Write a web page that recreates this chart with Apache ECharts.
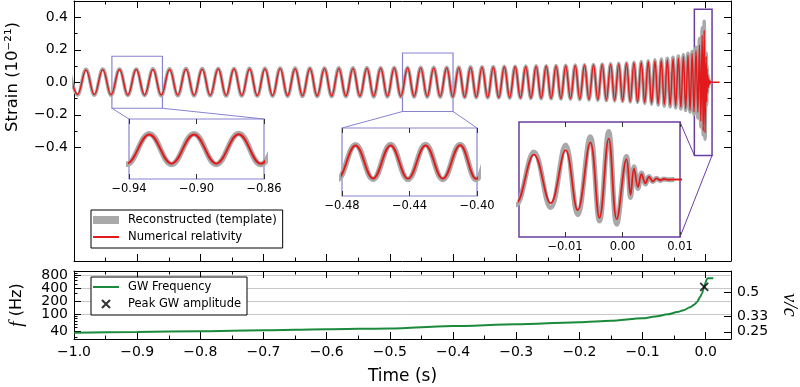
<!DOCTYPE html>
<html>
<head>
<meta charset="utf-8">
<script src="https://cdn.jsdelivr.net/npm/echarts@6.0.0/dist/echarts.min.js"></script>
<style>
html, body { margin:0; padding:0; background:#fff; }
#chart { width:800px; height:387px; }
</style>
</head>
<body>
<div id="chart"></div>
<script>
// ---------------- data ----------------
// extremes (peaks / troughs) of the strain waveform, time in s
const strainTimes = [
-1.0075,-0.9943,-0.9810,-0.9678,-0.9545,-0.9413,-0.9280,-0.9148,-0.9015,-0.8883,
-0.8750,-0.8619,-0.8487,-0.8357,-0.8227,-0.8099,-0.7971,-0.7844,-0.7717,-0.7592,
-0.7467,-0.7344,-0.7221,-0.7099,-0.6977,-0.6857,-0.6737,-0.6619,-0.6500,-0.6383,
-0.6266,-0.6151,-0.6035,-0.5922,-0.5808,-0.5696,-0.5584,-0.5474,-0.5363,-0.5255,
-0.5146,-0.5039,-0.4931,-0.4826,-0.4720,-0.4616,-0.4512,-0.4409,-0.4305,-0.4203,
-0.4100,-0.4005,-0.3909,-0.3816,-0.3723,-0.3632,-0.3541,-0.3452,-0.3363,-0.3276,
-0.3188,-0.3103,-0.3017,-0.2933,-0.2849,-0.2767,-0.2685,-0.2605,-0.2525,-0.2447,
-0.2369,-0.2293,-0.2216,-0.2141,-0.2066,-0.1993,-0.1919,-0.1848,-0.1777,-0.1708,
-0.1639,-0.1573,-0.1506,-0.1442,-0.1377,-0.1316,-0.1254,-0.1195,-0.1136,-0.1079,
-0.1021,-0.0966,-0.0910,-0.0857,-0.0804,-0.0754,-0.0704,-0.0656,-0.0608,-0.0563,
-0.0518,-0.0476,-0.0433,-0.0394,-0.0354,-0.0318,-0.0281,-0.0248,-0.0215,-0.0185,
-0.0154,-0.0125,-0.0099,-0.0078,-0.0056,-0.0040,-0.0024,-0.0010,0.0007,0.0014,
0.0020,0.0027,0.0033,0.0040,0.0046,0.0053,0.0059,0.0066,0.0072,0.0080,
0.0090,0.0220];
// numerical relativity strain (1e-21) at those times
const nrStrain = [
0.075,-0.075,0.076,-0.076,0.077,-0.077,0.078,-0.078,0.078,-0.078,
0.079,-0.079,0.079,-0.079,0.080,-0.080,0.080,-0.080,0.081,-0.081,
0.081,-0.081,0.082,-0.082,0.082,-0.082,0.083,-0.083,0.083,-0.083,
0.084,-0.084,0.084,-0.084,0.085,-0.085,0.085,-0.085,0.086,-0.086,
0.086,-0.086,0.087,-0.087,0.087,-0.087,0.088,-0.088,0.088,-0.088,
0.089,-0.089,0.090,-0.090,0.091,-0.091,0.092,-0.092,0.093,-0.093,
0.094,-0.094,0.095,-0.095,0.096,-0.096,0.097,-0.097,0.098,-0.098,
0.099,-0.099,0.100,-0.101,0.102,-0.103,0.104,-0.105,0.106,-0.107,
0.108,-0.109,0.110,-0.111,0.113,-0.114,0.116,-0.117,0.119,-0.120,
0.122,-0.124,0.126,-0.128,0.130,-0.132,0.134,-0.136,0.138,-0.141,
0.144,-0.147,0.150,-0.154,0.158,-0.162,0.166,-0.171,0.177,-0.183,
0.195,-0.185,0.230,-0.240,0.290,-0.300,0.320,-0.310,0.160,-0.120,
0.085,-0.060,0.042,-0.030,0.020,-0.014,0.009,-0.006,0.004,-0.002,
0,0];
// reconstructed template strain (1e-21) at those times (null = no template)
const templateStrain = [
0.079,-0.079,0.080,-0.080,0.081,-0.081,0.082,-0.082,0.082,-0.082,
0.083,-0.083,0.083,-0.083,0.084,-0.084,0.084,-0.084,0.085,-0.085,
0.085,-0.085,0.086,-0.086,0.086,-0.086,0.087,-0.087,0.087,-0.087,
0.088,-0.088,0.088,-0.088,0.089,-0.089,0.089,-0.089,0.090,-0.090,
0.090,-0.090,0.091,-0.091,0.091,-0.091,0.092,-0.092,0.092,-0.092,
0.093,-0.093,0.094,-0.094,0.095,-0.095,0.096,-0.096,0.097,-0.097,
0.098,-0.098,0.099,-0.099,0.100,-0.100,0.101,-0.101,0.102,-0.102,
0.103,-0.103,0.104,-0.105,0.106,-0.107,0.108,-0.109,0.110,-0.111,
0.112,-0.113,0.114,-0.115,0.117,-0.118,0.120,-0.121,0.123,-0.124,
0.127,-0.130,0.133,-0.136,0.139,-0.141,0.143,-0.146,0.148,-0.151,
0.154,-0.157,0.161,-0.165,0.169,-0.174,0.179,-0.184,0.190,-0.198,
0.215,-0.220,0.270,-0.275,0.335,-0.325,0.375,-0.350,0.180,-0.140,
0.100,-0.070,0.050,-0.035,0.024,-0.016,0.010,-0.007,0.004,-0.002,
0,null];
// GW frequency track
const freqTimes = [-1.0,-0.9,-0.8,-0.7,-0.6,-0.5,-0.4,-0.3,-0.2,-0.15,-0.1,-0.08,-0.06,-0.045,-0.035,-0.025,-0.019,-0.014,-0.0087,-0.006,-0.004,-0.0024,-0.001,0.0005,0.0015,0.0025,0.004,0.007,0.012];
const freqHz = [37.8,39.3,40.9,42.9,45.2,47.3,53.8,59,65.5,71,81,89,100,113,125,145,164,190,254,300,360,431,500,580,640,670,680,682,682];
const peakAmpTime = [-0.0024];
const peakAmpFreq = [431];

// axes / ticks
const timeRange = [-1.0, 0.04];
const strainRange = [-1.1, 0.5];
const freqRange = [27, 1000];
const timeTicks = [-1.0,-0.9,-0.8,-0.7,-0.6,-0.5,-0.4,-0.3,-0.2,-0.1,0.0];
const timeMinorTicks = [-0.95,-0.85,-0.75,-0.65,-0.55,-0.45,-0.35,-0.25,-0.15,-0.05];
const strainTicks = [-0.4,-0.2,0.0,0.2,0.4];
const strainMinorTicks = [-0.3,-0.1,0.1,0.3];
const freqTicks = [40,100,200,400,800];
const freqLabelsA = [40,100,200,800];
const freqLabelsB = [400];
const freqGridTicks = [100,200,400,800];
const freqMinorTicks = [30,50,60,70,80,90,300,500,600,700,900];
const vcTicks = [0.5,0.33,0.25];
const vcScale = 2535;
const inset1Time = [-0.94,-0.86], inset1Strain = [-0.16,0.16], inset1Ticks = [-0.94,-0.90,-0.86];
const inset2Time = [-0.48,-0.40], inset2Strain = [-0.18,0.18], inset2Ticks = [-0.48,-0.44,-0.40];
const inset3Time = [-0.018,0.01], inset3Strain = [-0.45,0.45], inset3Ticks = [-0.01,0.0,0.01];

// ---------------- chart ----------------
const chart = echarts.init(document.getElementById('chart'), null, {renderer:'canvas'});
const FONT = 'DejaVu Sans';
const RED = '#e31a1c', GRAY = '#a9a9a9', GREEN = '#1b8a3c';
const C_IN1 = '#8783cf', C_IN3 = '#6a3d9e';
const NAME_T = 'Reconstructed (template)', NAME_NR = 'Numerical relativity';
const LINE_ICON = 'path://M0,0L26,0L26,2L0,2Z';
const lg = Math.log10;
const mfmt = (v, d) => v.toFixed(d).replace('-', '\u2212');
const ffmt = v => String(Math.round(Math.pow(10, v)));

const nrData = strainTimes.map((t, i) => [t, nrStrain[i]]);
const tmplData = strainTimes.map((t, i) => [t, templateStrain[i]]).filter(p => p[1] !== null);
const freqData = freqTimes.map((t, i) => [t, lg(freqHz[i])]);
const peakData = peakAmpTime.map((t, i) => [t, lg(peakAmpFreq[i])]);

function grid(g) { return Object.assign({containLabel:false, outerBoundsMode:'none'}, g); }
function ax(gi, pos, range, ticks, len, o) {
  o = o || {};
  const a = {
    type:'value', gridIndex:gi, position:pos, min:range[0], max:range[1],
    axisLine:{show:o.line !== false, onZero:false, lineStyle:{color:'#000', width:1}},
    axisTick:{show:o.tickShow !== false && ticks !== null, inside:true, length:len,
              lineStyle:{color:o.tickColor || '#000', width:1}},
    axisLabel:o.label || {show:false},
    splitLine:o.split || {show:false},
    axisPointer:{show:false}
  };
  if (ticks) a.axisTick.customValues = ticks;
  if (o.name) {
    a.name = o.name; a.nameLocation = 'middle'; a.nameGap = o.nameGap;
    a.nameRotate = o.nameRotate; a.nameTextStyle = o.nameTextStyle;
  }
  return a;
}
function lbl(values, fmt, size, margin) {
  return {show:true, customValues:values, formatter:fmt, fontFamily:FONT, fontSize:size, color:'#000', margin:margin,
          hideOverlap:false, showMinLabel:true, showMaxLabel:true};
}
const fRange = [lg(freqRange[0]), lg(freqRange[1])];
const vcPos = vcTicks.map(v => lg(vcScale * v * v * v));

const option = {
  animation:false,
  backgroundColor:'#fff',
  grid:[
    grid({left:74, top:1, width:657, height:260}),
    grid({left:74, top:271, width:657, height:68}),
    grid({left:129, top:119, width:135, height:60, show:true, backgroundColor:'#fff', borderColor:C_IN1, borderWidth:1.2}),
    grid({left:342, top:128, width:135, height:68, show:true, backgroundColor:'#fff', borderColor:C_IN1, borderWidth:1.2}),
    grid({left:519, top:122, width:161, height:115, show:true, backgroundColor:'#fff', borderColor:C_IN3, borderWidth:1.5})
  ],
  xAxis:[
    ax(0,'bottom',timeRange,timeTicks,7),
    ax(0,'top',timeRange,timeTicks,7),
    ax(0,'bottom',timeRange,timeMinorTicks,3.5,{line:false}),
    ax(0,'top',timeRange,timeMinorTicks,3.5,{line:false}),
    ax(1,'bottom',timeRange,timeTicks,7,{label:lbl(timeTicks, v => mfmt(v,1), 14, 6),
        name:'Time (s)', nameGap:29, nameTextStyle:{fontFamily:FONT, fontSize:17, color:'#000'}}),
    ax(1,'top',timeRange,timeTicks,7),
    ax(1,'bottom',timeRange,timeMinorTicks,3.5,{line:false}),
    ax(1,'top',timeRange,timeMinorTicks,3.5,{line:false}),
    ax(2,'bottom',inset1Time,inset1Ticks,5,{line:false, tickColor:'#333', label:lbl(inset1Ticks, v => mfmt(v,2), 11.5, 4)}),
    ax(2,'top',inset1Time,inset1Ticks,5,{line:false, tickColor:'#333'}),
    ax(3,'bottom',inset2Time,inset2Ticks,5,{line:false, tickColor:'#333', label:lbl(inset2Ticks, v => mfmt(v,2), 11.5, 4)}),
    ax(3,'top',inset2Time,inset2Ticks,5,{line:false, tickColor:'#333'}),
    ax(4,'bottom',inset3Time,inset3Ticks,5,{line:false, tickColor:'#333', label:lbl(inset3Ticks, v => mfmt(v,2), 11.5, 4)}),
    ax(4,'top',inset3Time,inset3Ticks,5,{line:false, tickColor:'#333'})
  ],
  yAxis:[
    ax(0,'left',strainRange,strainTicks,7,{label:lbl(strainTicks, v => mfmt(v,1), 14, 6)}),
    ax(0,'right',strainRange,strainTicks,7),
    ax(0,'left',strainRange,strainMinorTicks,3.5,{line:false}),
    ax(0,'right',strainRange,strainMinorTicks,3.5,{line:false}),
    ax(1,'left',fRange,freqTicks.map(lg),7,{label:lbl(freqLabelsA.map(lg), ffmt, 14, 6),
        name:'{i|f} (Hz)', nameGap:48, nameRotate:90,
        nameTextStyle:{fontFamily:FONT, fontSize:16, color:'#000',
          rich:{i:{fontFamily:'Liberation Serif', fontStyle:'italic', fontSize:19, color:'#000'}}}}),
    ax(1,'left',fRange,freqGridTicks.map(lg),0,{line:false, tickShow:false,
        split:{show:true, lineStyle:{color:'#c8c8c8', width:1}}}),
    ax(1,'left',fRange,freqMinorTicks.map(lg),3.5,{line:false, label:lbl(freqLabelsB.map(lg), ffmt, 14, 6)}),
    ax(1,'right',fRange,vcPos,7,{label:lbl(vcPos, v => String(parseFloat(Math.cbrt(Math.pow(10, v) / vcScale).toFixed(2))), 14, 6),
        name:'v/c', nameGap:48, nameRotate:-90,
        nameTextStyle:{fontFamily:'Liberation Serif', fontStyle:'italic', fontSize:20, color:'#000'}}),
    ax(2,'left',inset1Strain,null,0,{line:false}),
    ax(3,'left',inset2Strain,null,0,{line:false}),
    ax(4,'left',inset3Strain,null,0,{line:false})
  ],
  legend:[
    {orient:'vertical', left:91, top:210, selectedMode:false,
     data:[{name:NAME_T, icon:'rect'}, {name:NAME_NR, icon:LINE_ICON}],
     itemWidth:26, itemHeight:8, itemGap:3, padding:[3,6,4,2],
     backgroundColor:'#fff', borderColor:'#000', borderWidth:1, borderRadius:0,
     textStyle:{fontFamily:FONT, fontSize:11.6, color:'#000', lineHeight:14, padding:[0,0,0,4]}},
    {orient:'vertical', left:91, top:277, selectedMode:false,
     data:[{name:'GW Frequency', icon:LINE_ICON}, {name:'Peak GW amplitude'}],
     itemWidth:26, itemHeight:8, itemGap:3, padding:[3,6,4,2],
     backgroundColor:'#fff', borderColor:'#000', borderWidth:1, borderRadius:0,
     textStyle:{fontFamily:FONT, fontSize:11.5, color:'#000', lineHeight:14, padding:[0,0,0,4]}}
  ],
  graphic:[
    {type:'text', id:'strainLabel', x:13, y:77, rotation:Math.PI/2,
     style:{text:'Strain (10\u207B\u00B2\u00B9)', fontFamily:FONT, fontSize:16.5, fill:'#000', align:'center', verticalAlign:'middle'}}
  ],
  series:[
    {type:'line', name:NAME_T, xAxisIndex:0, yAxisIndex:0, data:tmplData, smooth:0.4, showSymbol:false, symbol:'none',
     color:GRAY, lineStyle:{color:GRAY, width:3.5}, z:2},
    {type:'line', name:NAME_NR, xAxisIndex:0, yAxisIndex:0, data:nrData, smooth:0.4, showSymbol:false, symbol:'none',
     color:RED, lineStyle:{color:RED, width:1.5}, z:3,
     markArea:{silent:true, itemStyle:{color:'rgba(0,0,0,0)', borderWidth:1.2, borderColor:C_IN1},
       data:[
         [{coord:[inset1Time[0], inset1Strain[0]]}, {coord:[inset1Time[1], inset1Strain[1]]}],
         [{coord:[inset2Time[0], inset2Strain[0]]}, {coord:[inset2Time[1], inset2Strain[1]]}],
         [{coord:[inset3Time[0], inset3Strain[0]], itemStyle:{borderColor:C_IN3, borderWidth:1.5}}, {coord:[inset3Time[1], inset3Strain[1]]}]
       ]}},
    {type:'line', name:NAME_T, xAxisIndex:8, yAxisIndex:8, data:tmplData, smooth:0.4, showSymbol:false, symbol:'none',
     color:GRAY, lineStyle:{color:GRAY, width:5.5}, z:4},
    {type:'line', name:NAME_NR, xAxisIndex:8, yAxisIndex:8, data:nrData, smooth:0.4, showSymbol:false, symbol:'none',
     color:RED, lineStyle:{color:RED, width:2}, z:5},
    {type:'line', name:NAME_T, xAxisIndex:10, yAxisIndex:9, data:tmplData, smooth:0.4, showSymbol:false, symbol:'none',
     color:GRAY, lineStyle:{color:GRAY, width:5.5}, z:4},
    {type:'line', name:NAME_NR, xAxisIndex:10, yAxisIndex:9, data:nrData, smooth:0.4, showSymbol:false, symbol:'none',
     color:RED, lineStyle:{color:RED, width:2}, z:5},
    {type:'line', name:NAME_T, xAxisIndex:12, yAxisIndex:10, data:tmplData, smooth:0.4, showSymbol:false, symbol:'none',
     color:GRAY, lineStyle:{color:GRAY, width:5}, z:4},
    {type:'line', name:NAME_NR, xAxisIndex:12, yAxisIndex:10, data:nrData, smooth:0.4, showSymbol:false, symbol:'none',
     color:RED, lineStyle:{color:RED, width:1.8}, z:5},
    {type:'line', name:'GW Frequency', xAxisIndex:4, yAxisIndex:4, data:freqData, smooth:0.25, smoothMonotone:'x',
     showSymbol:false, symbol:'none', color:GREEN, lineStyle:{color:GREEN, width:2}, z:3},
    {type:'scatter', name:'Peak GW amplitude', xAxisIndex:4, yAxisIndex:4, data:peakData,
     symbol:'path://M0,0L10,10M10,0L0,10', symbolSize:8,
     itemStyle:{color:'rgba(0,0,0,0)', borderColor:'#000', borderWidth:1.8}, z:4}
  ]
};
chart.setOption(option);

// connector lines between zoom rectangles and insets
function px(xi, yi, pt) { return chart.convertToPixel({xAxisIndex:xi, yAxisIndex:yi}, pt); }
function seg(id, a, b, color) {
  return {type:'line', id:id, z:50, silent:true, shape:{x1:a[0], y1:a[1], x2:b[0], y2:b[1]},
          style:{stroke:color, lineWidth:1}};
}
const conn = [
  seg('c1a', px(0,0,[inset1Time[0], inset1Strain[0]]), px(8,8,[inset1Time[0], inset1Strain[1]]), C_IN1),
  seg('c1b', px(0,0,[inset1Time[1], inset1Strain[0]]), px(8,8,[inset1Time[1], inset1Strain[1]]), C_IN1),
  seg('c2a', px(0,0,[inset2Time[0], inset2Strain[0]]), px(10,9,[inset2Time[0], inset2Strain[1]]), C_IN1),
  seg('c2b', px(0,0,[inset2Time[1], inset2Strain[0]]), px(10,9,[inset2Time[1], inset2Strain[1]]), C_IN1),
  seg('c3a', px(0,0,[inset3Time[0], inset3Strain[0]]), px(12,10,[inset3Time[1], inset3Strain[1]]), C_IN3),
  seg('c3b', px(0,0,[inset3Time[1], inset3Strain[0]]), px(12,10,[inset3Time[1], inset3Strain[0]]), C_IN3)
];
chart.setOption({graphic: conn});
</script>
</body>
</html>
